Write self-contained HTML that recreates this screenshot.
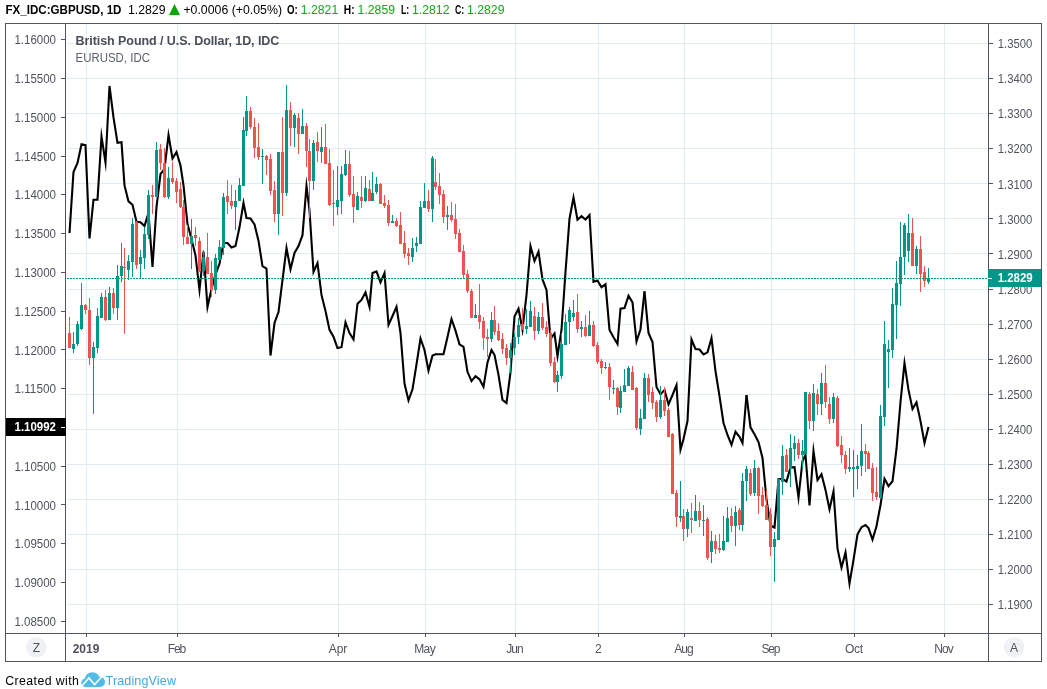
<!DOCTYPE html>
<html lang="en"><head><meta charset="utf-8"><title>FX_IDC:GBPUSD, 1D</title>
<style>
html,body{margin:0;padding:0;background:#fff;}
body{width:1047px;height:689px;overflow:hidden;}
svg{display:block;}
text{font-family:"Liberation Sans",sans-serif;}
.ce{shape-rendering:crispEdges;}
.al{font-size:12px;fill:#50535e;}
.hd{font-size:12.2px;fill:#000;}
.hg{font-size:12.2px;fill:#14a614;}
.b{font-weight:bold;}
</style></head><body>
<svg width="1047" height="689" viewBox="0 0 1047 689">
<rect x="0" y="0" width="1047" height="689" fill="#fff"/>
<g class="ce" fill="#e1ecf2">
<rect x="67" y="43" width="920" height="1"/>
<rect x="67" y="78" width="920" height="1"/>
<rect x="67" y="113" width="920" height="1"/>
<rect x="67" y="148" width="920" height="1"/>
<rect x="67" y="183" width="920" height="1"/>
<rect x="67" y="218" width="920" height="1"/>
<rect x="67" y="253" width="920" height="1"/>
<rect x="67" y="289" width="920" height="1"/>
<rect x="67" y="324" width="920" height="1"/>
<rect x="67" y="359" width="920" height="1"/>
<rect x="67" y="394" width="920" height="1"/>
<rect x="67" y="429" width="920" height="1"/>
<rect x="67" y="464" width="920" height="1"/>
<rect x="67" y="499" width="920" height="1"/>
<rect x="67" y="534" width="920" height="1"/>
<rect x="67" y="569" width="920" height="1"/>
<rect x="67" y="604" width="920" height="1"/>
<rect x="86" y="24" width="1" height="609"/>
<rect x="177" y="24" width="1" height="609"/>
<rect x="338" y="24" width="1" height="609"/>
<rect x="425" y="24" width="1" height="609"/>
<rect x="515" y="24" width="1" height="609"/>
<rect x="598" y="24" width="1" height="609"/>
<rect x="684" y="24" width="1" height="609"/>
<rect x="771" y="24" width="1" height="609"/>
<rect x="854" y="24" width="1" height="609"/>
<rect x="944" y="24" width="1" height="609"/>
</g>
<g fill="none" stroke="#000" stroke-width="2.1" stroke-linejoin="miter" stroke-miterlimit="10" stroke-linecap="butt">
<polyline points="69.5,233.0 73.5,172.0 77.5,163.0 81.5,144.2 85.5,145.2 89.5,238.5 93.5,199.8 97.5,199.8 101.5,136.5 105.5,162.5 109.5,86.0 113.5,117.4 117.5,142.8 121.5,142.2 124.5,185.4 128.5,201.4 132.5,204.8 136.5,221.8 140.5,222.2 144.5,226.0 148.5,213.0 152.5,267.0 156.5,207.0 160.5,174.0 164.5,169.0 168.5,135.0 172.5,158.5 176.5,152.0 180.5,165.5 183.5,185.4 187.5,224.0 191.5,239.0 195.5,255.5 199.5,290.0 203.5,251.5 207.5,307.0 211.5,289.0 215.5,274.3 219.5,263.7 223.5,243.0 227.5,243.0 231.5,247.5 235.5,246.0 239.5,227.3 243.5,202.8 246.5,218.0 250.5,218.4 254.5,224.5 258.5,240.7 262.5,266.2 266.5,268.5 270.5,355.5 274.5,323.0 278.5,312.0 282.5,280.0 286.5,248.0 290.5,269.3 294.5,253.0 298.5,246.0 302.5,235.2 306.5,186.0 309.5,210.5 313.5,272.0 317.5,263.0 321.5,294.9 325.5,311.0 329.5,329.8 333.5,336.8 337.5,348.0 341.5,347.2 345.5,322.4 349.5,333.0 353.5,339.3 357.5,303.7 361.5,299.9 365.5,292.4 369.5,306.8 372.5,273.1 376.5,271.5 380.5,282.4 384.5,273.1 388.5,324.9 392.5,316.0 396.5,306.8 400.5,333.0 404.5,383.6 408.5,400.4 412.5,389.3 416.5,364.3 420.5,338.5 424.5,350.0 428.5,370.5 432.5,355.6 435.5,354.3 439.5,354.3 443.5,354.3 447.5,336.9 451.5,319.0 455.5,330.6 459.5,344.3 463.5,346.8 467.5,371.8 471.5,381.1 475.5,376.2 479.5,379.3 483.5,386.8 487.5,362.4 491.5,350.0 494.5,354.9 498.5,374.9 502.5,399.9 506.5,403.0 510.5,372.4 514.5,316.5 518.5,308.7 522.5,329.8 526.5,295.0 530.5,246.1 534.5,261.1 538.5,251.7 542.5,279.4 546.5,290.0 550.5,339.0 554.5,333.5 557.5,356.0 561.5,330.0 565.5,272.0 569.5,218.7 573.5,197.5 577.5,219.8 581.5,216.2 585.5,219.5 589.5,215.0 593.5,281.8 597.5,280.6 601.5,287.2 605.5,284.3 609.5,329.9 613.5,337.3 617.5,344.0 620.5,308.6 624.5,308.0 628.5,295.8 632.5,302.4 636.5,341.5 640.5,329.2 644.5,291.3"/>
<polyline points="644.5,291.3 648.5,333.0 652.5,342.0 656.5,387.0 660.5,394.2 664.5,390.1 668.5,404.4 672.5,395.0 676.5,385.1 680.5,449.5 683.5,439.0 687.5,421.0 691.5,339.5 695.5,349.0 699.5,349.5 703.5,354.5 707.5,352.4 711.5,338.1 715.5,371.1 719.5,396.2 723.5,423.0 727.5,435.0 731.5,444.8 735.5,431.8 739.5,436.8 742.5,443.0 746.5,395.0"/>
<polyline points="746.5,395.0 750.5,427.4 754.5,434.3 758.5,442.0 762.5,458.0 766.5,499.5 770.5,525.5 774.5,527.5 778.5,479.3 782.5,478.8 786.5,481.5 790.5,467.4 794.5,467.2 798.5,497.5 802.5,461.0 805.5,455.0 809.5,505.4 813.5,451.0 817.5,479.9 821.5,474.3 825.5,489.9 829.5,509.3 833.5,491.5 837.5,548.7 841.5,567.4 845.5,552.4 849.5,583.6 853.5,559.9 857.5,534.3 861.5,527.2 865.5,525.0 868.5,528.1 872.5,539.5 876.5,526.2 880.5,505.0 884.5,478.7 888.5,486.1 892.5,481.2 896.5,449.0 900.5,402.0 904.5,363.1 908.5,389.9 912.5,409.0 916.5,402.4 920.5,421.1 924.5,443.0 928.5,427.0"/>
</g>
<g class="ce">
<rect fill="#ef5350" x="69" y="317" width="1" height="31"/><rect fill="#ef5350" x="68" y="333" width="3" height="15"/>
<rect fill="#009688" x="73" y="332" width="1" height="21"/><rect fill="#009688" x="72" y="344" width="3" height="5"/>
<rect fill="#009688" x="77" y="321" width="1" height="25"/><rect fill="#009688" x="76" y="324" width="3" height="20"/>
<rect fill="#009688" x="81" y="283" width="1" height="47"/><rect fill="#009688" x="80" y="305" width="3" height="24"/>
<rect fill="#ef5350" x="85" y="304" width="1" height="10"/><rect fill="#ef5350" x="84" y="305" width="3" height="5"/>
<rect fill="#ef5350" x="89" y="298" width="1" height="67"/><rect fill="#ef5350" x="88" y="310" width="3" height="48"/>
<rect fill="#009688" x="93" y="342" width="1" height="72"/><rect fill="#009688" x="92" y="347" width="3" height="11"/>
<rect fill="#009688" x="97" y="308" width="1" height="45"/><rect fill="#009688" x="96" y="316" width="3" height="32"/>
<rect fill="#009688" x="101" y="293" width="1" height="25"/><rect fill="#009688" x="100" y="297" width="3" height="21"/>
<rect fill="#ef5350" x="105" y="290" width="1" height="31"/><rect fill="#ef5350" x="104" y="297" width="3" height="23"/>
<rect fill="#009688" x="109" y="287" width="1" height="33"/><rect fill="#009688" x="108" y="293" width="3" height="27"/>
<rect fill="#ef5350" x="113" y="288" width="1" height="26"/><rect fill="#ef5350" x="112" y="293" width="3" height="15"/>
<rect fill="#009688" x="117" y="265" width="1" height="55"/><rect fill="#009688" x="116" y="276" width="3" height="32"/>
<rect fill="#009688" x="121" y="243" width="1" height="39"/><rect fill="#009688" x="120" y="266" width="3" height="10"/>
<rect fill="#ef5350" x="124" y="248" width="1" height="86"/><rect fill="#ef5350" x="123" y="267" width="3" height="1"/>
<rect fill="#009688" x="128" y="255" width="1" height="25"/><rect fill="#009688" x="127" y="261" width="3" height="9"/>
<rect fill="#009688" x="132" y="218" width="1" height="59"/><rect fill="#009688" x="131" y="224" width="3" height="38"/>
<rect fill="#ef5350" x="136" y="221" width="1" height="48"/><rect fill="#ef5350" x="135" y="222" width="3" height="43"/>
<rect fill="#009688" x="140" y="250" width="1" height="28"/><rect fill="#009688" x="139" y="257" width="3" height="7"/>
<rect fill="#009688" x="144" y="227" width="1" height="42"/><rect fill="#009688" x="143" y="234" width="3" height="24"/>
<rect fill="#009688" x="148" y="190" width="1" height="49"/><rect fill="#009688" x="147" y="195" width="3" height="40"/>
<rect fill="#ef5350" x="152" y="185" width="1" height="29"/><rect fill="#ef5350" x="151" y="195" width="3" height="2"/>
<rect fill="#009688" x="156" y="142" width="1" height="55"/><rect fill="#009688" x="155" y="150" width="3" height="47"/>
<rect fill="#ef5350" x="160" y="144" width="1" height="26"/><rect fill="#ef5350" x="159" y="149" width="3" height="14"/>
<rect fill="#ef5350" x="164" y="148" width="1" height="50"/><rect fill="#ef5350" x="163" y="163" width="3" height="34"/>
<rect fill="#009688" x="168" y="167" width="1" height="32"/><rect fill="#009688" x="167" y="178" width="3" height="19"/>
<rect fill="#ef5350" x="172" y="162" width="1" height="22"/><rect fill="#ef5350" x="171" y="178" width="3" height="4"/>
<rect fill="#ef5350" x="176" y="178" width="1" height="25"/><rect fill="#ef5350" x="175" y="181" width="3" height="11"/>
<rect fill="#ef5350" x="180" y="182" width="1" height="26"/><rect fill="#ef5350" x="179" y="189" width="3" height="18"/>
<rect fill="#ef5350" x="183" y="200" width="1" height="45"/><rect fill="#ef5350" x="182" y="207" width="3" height="30"/>
<rect fill="#ef5350" x="187" y="225" width="1" height="19"/><rect fill="#ef5350" x="186" y="237" width="3" height="7"/>
<rect fill="#009688" x="191" y="219" width="1" height="50"/><rect fill="#009688" x="190" y="236" width="3" height="8"/>
<rect fill="#ef5350" x="195" y="227" width="1" height="19"/><rect fill="#ef5350" x="194" y="235" width="3" height="3"/>
<rect fill="#ef5350" x="199" y="237" width="1" height="35"/><rect fill="#ef5350" x="198" y="241" width="3" height="30"/>
<rect fill="#009688" x="203" y="250" width="1" height="26"/><rect fill="#009688" x="202" y="257" width="3" height="14"/>
<rect fill="#ef5350" x="207" y="233" width="1" height="41"/><rect fill="#ef5350" x="206" y="257" width="3" height="17"/>
<rect fill="#ef5350" x="211" y="261" width="1" height="36"/><rect fill="#ef5350" x="210" y="273" width="3" height="17"/>
<rect fill="#009688" x="215" y="254" width="1" height="40"/><rect fill="#009688" x="214" y="258" width="3" height="32"/>
<rect fill="#009688" x="219" y="240" width="1" height="20"/><rect fill="#009688" x="218" y="247" width="3" height="13"/>
<rect fill="#009688" x="223" y="193" width="1" height="62"/><rect fill="#009688" x="222" y="197" width="3" height="51"/>
<rect fill="#ef5350" x="227" y="180" width="1" height="34"/><rect fill="#ef5350" x="226" y="196" width="3" height="6"/>
<rect fill="#ef5350" x="231" y="185" width="1" height="24"/><rect fill="#ef5350" x="230" y="201" width="3" height="5"/>
<rect fill="#009688" x="235" y="190" width="1" height="40"/><rect fill="#009688" x="234" y="201" width="3" height="6"/>
<rect fill="#009688" x="239" y="178" width="1" height="23"/><rect fill="#009688" x="238" y="185" width="3" height="16"/>
<rect fill="#009688" x="243" y="117" width="1" height="69"/><rect fill="#009688" x="242" y="130" width="3" height="56"/>
<rect fill="#009688" x="246" y="96" width="1" height="40"/><rect fill="#009688" x="245" y="111" width="3" height="20"/>
<rect fill="#ef5350" x="250" y="107" width="1" height="22"/><rect fill="#ef5350" x="249" y="111" width="3" height="16"/>
<rect fill="#ef5350" x="254" y="118" width="1" height="40"/><rect fill="#ef5350" x="253" y="127" width="3" height="21"/>
<rect fill="#ef5350" x="258" y="123" width="1" height="37"/><rect fill="#ef5350" x="257" y="147" width="3" height="10"/>
<rect fill="#009688" x="262" y="149" width="1" height="35"/><rect fill="#009688" x="261" y="156" width="3" height="1"/>
<rect fill="#ef5350" x="266" y="155" width="1" height="20"/><rect fill="#ef5350" x="265" y="156" width="3" height="4"/>
<rect fill="#ef5350" x="270" y="154" width="1" height="41"/><rect fill="#ef5350" x="269" y="159" width="3" height="32"/>
<rect fill="#ef5350" x="274" y="181" width="1" height="41"/><rect fill="#ef5350" x="273" y="190" width="3" height="24"/>
<rect fill="#009688" x="278" y="152" width="1" height="83"/><rect fill="#009688" x="277" y="152" width="3" height="62"/>
<rect fill="#ef5350" x="282" y="117" width="1" height="99"/><rect fill="#ef5350" x="281" y="152" width="3" height="41"/>
<rect fill="#009688" x="286" y="85" width="1" height="111"/><rect fill="#009688" x="285" y="110" width="3" height="83"/>
<rect fill="#ef5350" x="290" y="102" width="1" height="44"/><rect fill="#ef5350" x="289" y="110" width="3" height="18"/>
<rect fill="#009688" x="294" y="113" width="1" height="34"/><rect fill="#009688" x="293" y="115" width="3" height="13"/>
<rect fill="#ef5350" x="298" y="113" width="1" height="41"/><rect fill="#ef5350" x="297" y="118" width="3" height="16"/>
<rect fill="#009688" x="302" y="109" width="1" height="25"/><rect fill="#009688" x="301" y="126" width="3" height="8"/>
<rect fill="#ef5350" x="306" y="123" width="1" height="44"/><rect fill="#ef5350" x="305" y="126" width="3" height="25"/>
<rect fill="#ef5350" x="309" y="139" width="1" height="79"/><rect fill="#ef5350" x="308" y="151" width="3" height="30"/>
<rect fill="#009688" x="313" y="140" width="1" height="50"/><rect fill="#009688" x="312" y="143" width="3" height="38"/>
<rect fill="#ef5350" x="317" y="132" width="1" height="30"/><rect fill="#ef5350" x="316" y="142" width="3" height="9"/>
<rect fill="#009688" x="321" y="127" width="1" height="36"/><rect fill="#009688" x="320" y="147" width="3" height="5"/>
<rect fill="#ef5350" x="325" y="124" width="1" height="40"/><rect fill="#ef5350" x="324" y="147" width="3" height="17"/>
<rect fill="#ef5350" x="329" y="149" width="1" height="57"/><rect fill="#ef5350" x="328" y="163" width="3" height="42"/>
<rect fill="#ef5350" x="333" y="170" width="1" height="56"/><rect fill="#ef5350" x="332" y="203" width="3" height="1"/>
<rect fill="#009688" x="337" y="166" width="1" height="49"/><rect fill="#009688" x="336" y="200" width="3" height="7"/>
<rect fill="#009688" x="341" y="166" width="1" height="48"/><rect fill="#009688" x="340" y="174" width="3" height="27"/>
<rect fill="#009688" x="345" y="150" width="1" height="26"/><rect fill="#009688" x="344" y="164" width="3" height="11"/>
<rect fill="#ef5350" x="349" y="151" width="1" height="46"/><rect fill="#ef5350" x="348" y="164" width="3" height="31"/>
<rect fill="#ef5350" x="353" y="176" width="1" height="47"/><rect fill="#ef5350" x="352" y="194" width="3" height="13"/>
<rect fill="#009688" x="357" y="192" width="1" height="18"/><rect fill="#009688" x="356" y="196" width="3" height="14"/>
<rect fill="#ef5350" x="361" y="176" width="1" height="32"/><rect fill="#ef5350" x="360" y="197" width="3" height="4"/>
<rect fill="#009688" x="365" y="176" width="1" height="26"/><rect fill="#009688" x="364" y="188" width="3" height="13"/>
<rect fill="#ef5350" x="369" y="180" width="1" height="21"/><rect fill="#ef5350" x="368" y="189" width="3" height="12"/>
<rect fill="#009688" x="372" y="172" width="1" height="29"/><rect fill="#009688" x="371" y="193" width="3" height="8"/>
<rect fill="#009688" x="376" y="177" width="1" height="17"/><rect fill="#009688" x="375" y="184" width="3" height="8"/>
<rect fill="#ef5350" x="380" y="183" width="1" height="21"/><rect fill="#ef5350" x="379" y="184" width="3" height="20"/>
<rect fill="#ef5350" x="384" y="195" width="1" height="13"/><rect fill="#ef5350" x="383" y="203" width="3" height="3"/>
<rect fill="#ef5350" x="388" y="200" width="1" height="26"/><rect fill="#ef5350" x="387" y="205" width="3" height="18"/>
<rect fill="#009688" x="392" y="215" width="1" height="8"/><rect fill="#009688" x="391" y="221" width="3" height="2"/>
<rect fill="#ef5350" x="396" y="218" width="1" height="9"/><rect fill="#ef5350" x="395" y="221" width="3" height="5"/>
<rect fill="#ef5350" x="400" y="212" width="1" height="32"/><rect fill="#ef5350" x="399" y="225" width="3" height="19"/>
<rect fill="#ef5350" x="404" y="231" width="1" height="27"/><rect fill="#ef5350" x="403" y="243" width="3" height="11"/>
<rect fill="#ef5350" x="408" y="248" width="1" height="17"/><rect fill="#ef5350" x="407" y="253" width="3" height="3"/>
<rect fill="#009688" x="412" y="238" width="1" height="24"/><rect fill="#009688" x="411" y="248" width="3" height="9"/>
<rect fill="#009688" x="416" y="237" width="1" height="15"/><rect fill="#009688" x="415" y="243" width="3" height="3"/>
<rect fill="#009688" x="420" y="201" width="1" height="43"/><rect fill="#009688" x="419" y="207" width="3" height="37"/>
<rect fill="#009688" x="424" y="183" width="1" height="25"/><rect fill="#009688" x="423" y="201" width="3" height="7"/>
<rect fill="#ef5350" x="428" y="190" width="1" height="22"/><rect fill="#ef5350" x="427" y="201" width="3" height="8"/>
<rect fill="#009688" x="432" y="156" width="1" height="66"/><rect fill="#009688" x="431" y="158" width="3" height="51"/>
<rect fill="#ef5350" x="435" y="159" width="1" height="31"/><rect fill="#ef5350" x="434" y="182" width="3" height="5"/>
<rect fill="#ef5350" x="439" y="173" width="1" height="31"/><rect fill="#ef5350" x="438" y="186" width="3" height="9"/>
<rect fill="#ef5350" x="443" y="190" width="1" height="33"/><rect fill="#ef5350" x="442" y="194" width="3" height="23"/>
<rect fill="#009688" x="447" y="206" width="1" height="24"/><rect fill="#009688" x="446" y="215" width="3" height="2"/>
<rect fill="#ef5350" x="451" y="202" width="1" height="20"/><rect fill="#ef5350" x="450" y="215" width="3" height="5"/>
<rect fill="#ef5350" x="455" y="204" width="1" height="35"/><rect fill="#ef5350" x="454" y="219" width="3" height="15"/>
<rect fill="#ef5350" x="459" y="229" width="1" height="23"/><rect fill="#ef5350" x="458" y="233" width="3" height="19"/>
<rect fill="#ef5350" x="463" y="245" width="1" height="33"/><rect fill="#ef5350" x="462" y="251" width="3" height="24"/>
<rect fill="#ef5350" x="467" y="270" width="1" height="23"/><rect fill="#ef5350" x="466" y="274" width="3" height="17"/>
<rect fill="#ef5350" x="471" y="289" width="1" height="29"/><rect fill="#ef5350" x="470" y="291" width="3" height="27"/>
<rect fill="#009688" x="475" y="304" width="1" height="14"/><rect fill="#009688" x="474" y="315" width="3" height="3"/>
<rect fill="#ef5350" x="479" y="284" width="1" height="45"/><rect fill="#ef5350" x="478" y="315" width="3" height="7"/>
<rect fill="#ef5350" x="483" y="317" width="1" height="33"/><rect fill="#ef5350" x="482" y="321" width="3" height="17"/>
<rect fill="#ef5350" x="487" y="329" width="1" height="28"/><rect fill="#ef5350" x="486" y="337" width="3" height="2"/>
<rect fill="#009688" x="491" y="312" width="1" height="30"/><rect fill="#009688" x="490" y="320" width="3" height="19"/>
<rect fill="#ef5350" x="494" y="306" width="1" height="29"/><rect fill="#ef5350" x="493" y="320" width="3" height="12"/>
<rect fill="#ef5350" x="498" y="323" width="1" height="18"/><rect fill="#ef5350" x="497" y="331" width="3" height="9"/>
<rect fill="#ef5350" x="502" y="333" width="1" height="21"/><rect fill="#ef5350" x="501" y="339" width="3" height="10"/>
<rect fill="#ef5350" x="506" y="344" width="1" height="21"/><rect fill="#ef5350" x="505" y="348" width="3" height="10"/>
<rect fill="#009688" x="510" y="343" width="1" height="30"/><rect fill="#009688" x="509" y="350" width="3" height="8"/>
<rect fill="#009688" x="514" y="333" width="1" height="22"/><rect fill="#009688" x="513" y="337" width="3" height="11"/>
<rect fill="#009688" x="518" y="318" width="1" height="26"/><rect fill="#009688" x="517" y="325" width="3" height="12"/>
<rect fill="#ef5350" x="522" y="308" width="1" height="22"/><rect fill="#ef5350" x="521" y="324" width="3" height="6"/>
<rect fill="#009688" x="526" y="309" width="1" height="25"/><rect fill="#009688" x="525" y="326" width="3" height="3"/>
<rect fill="#009688" x="530" y="301" width="1" height="26"/><rect fill="#009688" x="529" y="311" width="3" height="16"/>
<rect fill="#ef5350" x="534" y="307" width="1" height="33"/><rect fill="#ef5350" x="533" y="316" width="3" height="15"/>
<rect fill="#009688" x="538" y="312" width="1" height="22"/><rect fill="#009688" x="537" y="317" width="3" height="14"/>
<rect fill="#ef5350" x="542" y="303" width="1" height="27"/><rect fill="#ef5350" x="541" y="317" width="3" height="11"/>
<rect fill="#ef5350" x="546" y="321" width="1" height="16"/><rect fill="#ef5350" x="545" y="327" width="3" height="7"/>
<rect fill="#ef5350" x="550" y="330" width="1" height="36"/><rect fill="#ef5350" x="549" y="333" width="3" height="30"/>
<rect fill="#ef5350" x="554" y="357" width="1" height="26"/><rect fill="#ef5350" x="553" y="362" width="3" height="20"/>
<rect fill="#009688" x="557" y="371" width="1" height="21"/><rect fill="#009688" x="556" y="375" width="3" height="7"/>
<rect fill="#009688" x="561" y="333" width="1" height="46"/><rect fill="#009688" x="560" y="344" width="3" height="32"/>
<rect fill="#009688" x="565" y="314" width="1" height="31"/><rect fill="#009688" x="564" y="322" width="3" height="23"/>
<rect fill="#009688" x="569" y="307" width="1" height="37"/><rect fill="#009688" x="568" y="310" width="3" height="12"/>
<rect fill="#009688" x="573" y="300" width="1" height="21"/><rect fill="#009688" x="572" y="313" width="3" height="4"/>
<rect fill="#ef5350" x="577" y="294" width="1" height="39"/><rect fill="#ef5350" x="576" y="312" width="3" height="17"/>
<rect fill="#009688" x="581" y="321" width="1" height="16"/><rect fill="#009688" x="580" y="327" width="3" height="2"/>
<rect fill="#ef5350" x="585" y="315" width="1" height="22"/><rect fill="#ef5350" x="584" y="327" width="3" height="9"/>
<rect fill="#009688" x="589" y="311" width="1" height="25"/><rect fill="#009688" x="588" y="325" width="3" height="11"/>
<rect fill="#ef5350" x="593" y="321" width="1" height="26"/><rect fill="#ef5350" x="592" y="325" width="3" height="21"/>
<rect fill="#ef5350" x="597" y="342" width="1" height="22"/><rect fill="#ef5350" x="596" y="345" width="3" height="17"/>
<rect fill="#ef5350" x="601" y="359" width="1" height="15"/><rect fill="#ef5350" x="600" y="361" width="3" height="7"/>
<rect fill="#009688" x="605" y="362" width="1" height="7"/><rect fill="#009688" x="604" y="367" width="3" height="1"/>
<rect fill="#ef5350" x="609" y="363" width="1" height="37"/><rect fill="#ef5350" x="608" y="367" width="3" height="20"/>
<rect fill="#009688" x="613" y="380" width="1" height="14"/><rect fill="#009688" x="612" y="388" width="3" height="1"/>
<rect fill="#ef5350" x="617" y="387" width="1" height="28"/><rect fill="#ef5350" x="616" y="388" width="3" height="19"/>
<rect fill="#009688" x="620" y="386" width="1" height="27"/><rect fill="#009688" x="619" y="391" width="3" height="17"/>
<rect fill="#009688" x="624" y="369" width="1" height="23"/><rect fill="#009688" x="623" y="385" width="3" height="7"/>
<rect fill="#009688" x="628" y="366" width="1" height="20"/><rect fill="#009688" x="627" y="368" width="3" height="18"/>
<rect fill="#ef5350" x="632" y="366" width="1" height="24"/><rect fill="#ef5350" x="631" y="372" width="3" height="18"/>
<rect fill="#ef5350" x="636" y="387" width="1" height="43"/><rect fill="#ef5350" x="635" y="388" width="3" height="40"/>
<rect fill="#009688" x="640" y="409" width="1" height="26"/><rect fill="#009688" x="639" y="418" width="3" height="11"/>
<rect fill="#009688" x="644" y="373" width="1" height="46"/><rect fill="#009688" x="643" y="378" width="3" height="41"/>
<rect fill="#ef5350" x="648" y="374" width="1" height="28"/><rect fill="#ef5350" x="647" y="378" width="3" height="17"/>
<rect fill="#ef5350" x="652" y="387" width="1" height="22"/><rect fill="#ef5350" x="651" y="392" width="3" height="11"/>
<rect fill="#ef5350" x="656" y="400" width="1" height="22"/><rect fill="#ef5350" x="655" y="402" width="3" height="15"/>
<rect fill="#009688" x="660" y="386" width="1" height="33"/><rect fill="#009688" x="659" y="400" width="3" height="17"/>
<rect fill="#ef5350" x="664" y="387" width="1" height="29"/><rect fill="#ef5350" x="663" y="400" width="3" height="11"/>
<rect fill="#ef5350" x="668" y="408" width="1" height="29"/><rect fill="#ef5350" x="667" y="410" width="3" height="27"/>
<rect fill="#ef5350" x="672" y="433" width="1" height="61"/><rect fill="#ef5350" x="671" y="434" width="3" height="60"/>
<rect fill="#ef5350" x="676" y="490" width="1" height="37"/><rect fill="#ef5350" x="675" y="493" width="3" height="24"/>
<rect fill="#009688" x="680" y="481" width="1" height="41"/><rect fill="#009688" x="679" y="516" width="3" height="2"/>
<rect fill="#ef5350" x="683" y="509" width="1" height="32"/><rect fill="#ef5350" x="682" y="516" width="3" height="13"/>
<rect fill="#009688" x="687" y="509" width="1" height="28"/><rect fill="#009688" x="686" y="512" width="3" height="17"/>
<rect fill="#ef5350" x="691" y="503" width="1" height="30"/><rect fill="#ef5350" x="690" y="518" width="3" height="2"/>
<rect fill="#009688" x="695" y="495" width="1" height="26"/><rect fill="#009688" x="694" y="511" width="3" height="10"/>
<rect fill="#ef5350" x="699" y="502" width="1" height="25"/><rect fill="#ef5350" x="698" y="511" width="3" height="9"/>
<rect fill="#009688" x="703" y="505" width="1" height="31"/><rect fill="#009688" x="702" y="520" width="3" height="1"/>
<rect fill="#ef5350" x="707" y="517" width="1" height="43"/><rect fill="#ef5350" x="706" y="519" width="3" height="39"/>
<rect fill="#009688" x="711" y="531" width="1" height="32"/><rect fill="#009688" x="710" y="541" width="3" height="11"/>
<rect fill="#ef5350" x="715" y="535" width="1" height="19"/><rect fill="#ef5350" x="714" y="541" width="3" height="8"/>
<rect fill="#ef5350" x="719" y="534" width="1" height="19"/><rect fill="#ef5350" x="718" y="548" width="3" height="2"/>
<rect fill="#009688" x="723" y="516" width="1" height="35"/><rect fill="#009688" x="722" y="541" width="3" height="9"/>
<rect fill="#009688" x="727" y="507" width="1" height="35"/><rect fill="#009688" x="726" y="518" width="3" height="24"/>
<rect fill="#ef5350" x="731" y="508" width="1" height="24"/><rect fill="#ef5350" x="730" y="516" width="3" height="10"/>
<rect fill="#009688" x="735" y="506" width="1" height="40"/><rect fill="#009688" x="734" y="512" width="3" height="14"/>
<rect fill="#ef5350" x="739" y="508" width="1" height="22"/><rect fill="#ef5350" x="738" y="510" width="3" height="15"/>
<rect fill="#009688" x="742" y="473" width="1" height="58"/><rect fill="#009688" x="741" y="481" width="3" height="44"/>
<rect fill="#009688" x="746" y="466" width="1" height="35"/><rect fill="#009688" x="745" y="469" width="3" height="12"/>
<rect fill="#ef5350" x="750" y="469" width="1" height="27"/><rect fill="#ef5350" x="749" y="473" width="3" height="21"/>
<rect fill="#009688" x="754" y="460" width="1" height="36"/><rect fill="#009688" x="753" y="468" width="3" height="25"/>
<rect fill="#ef5350" x="758" y="467" width="1" height="47"/><rect fill="#ef5350" x="757" y="468" width="3" height="28"/>
<rect fill="#ef5350" x="762" y="487" width="1" height="20"/><rect fill="#ef5350" x="761" y="495" width="3" height="11"/>
<rect fill="#ef5350" x="766" y="490" width="1" height="30"/><rect fill="#ef5350" x="765" y="505" width="3" height="15"/>
<rect fill="#ef5350" x="770" y="508" width="1" height="48"/><rect fill="#ef5350" x="769" y="514" width="3" height="33"/>
<rect fill="#009688" x="774" y="532" width="1" height="50"/><rect fill="#009688" x="773" y="539" width="3" height="8"/>
<rect fill="#009688" x="778" y="479" width="1" height="61"/><rect fill="#009688" x="777" y="479" width="3" height="61"/>
<rect fill="#009688" x="782" y="445" width="1" height="50"/><rect fill="#009688" x="781" y="456" width="3" height="26"/>
<rect fill="#ef5350" x="786" y="449" width="1" height="23"/><rect fill="#ef5350" x="785" y="455" width="3" height="17"/>
<rect fill="#009688" x="790" y="434" width="1" height="53"/><rect fill="#009688" x="789" y="448" width="3" height="21"/>
<rect fill="#009688" x="794" y="436" width="1" height="25"/><rect fill="#009688" x="793" y="443" width="3" height="6"/>
<rect fill="#ef5350" x="798" y="439" width="1" height="20"/><rect fill="#ef5350" x="797" y="443" width="3" height="12"/>
<rect fill="#009688" x="802" y="440" width="1" height="29"/><rect fill="#009688" x="801" y="451" width="3" height="4"/>
<rect fill="#009688" x="805" y="392" width="1" height="62"/><rect fill="#009688" x="804" y="392" width="3" height="62"/>
<rect fill="#ef5350" x="809" y="392" width="1" height="37"/><rect fill="#ef5350" x="808" y="394" width="3" height="27"/>
<rect fill="#009688" x="813" y="384" width="1" height="47"/><rect fill="#009688" x="812" y="393" width="3" height="28"/>
<rect fill="#ef5350" x="817" y="389" width="1" height="26"/><rect fill="#ef5350" x="816" y="394" width="3" height="10"/>
<rect fill="#009688" x="821" y="373" width="1" height="42"/><rect fill="#009688" x="820" y="383" width="3" height="21"/>
<rect fill="#ef5350" x="825" y="365" width="1" height="43"/><rect fill="#ef5350" x="824" y="383" width="3" height="19"/>
<rect fill="#ef5350" x="829" y="397" width="1" height="27"/><rect fill="#ef5350" x="828" y="404" width="3" height="15"/>
<rect fill="#009688" x="833" y="393" width="1" height="30"/><rect fill="#009688" x="832" y="397" width="3" height="22"/>
<rect fill="#ef5350" x="837" y="396" width="1" height="51"/><rect fill="#ef5350" x="836" y="398" width="3" height="48"/>
<rect fill="#ef5350" x="841" y="436" width="1" height="27"/><rect fill="#ef5350" x="840" y="445" width="3" height="10"/>
<rect fill="#ef5350" x="845" y="451" width="1" height="23"/><rect fill="#ef5350" x="844" y="455" width="3" height="14"/>
<rect fill="#009688" x="849" y="448" width="1" height="24"/><rect fill="#009688" x="848" y="467" width="3" height="2"/>
<rect fill="#009688" x="853" y="450" width="1" height="47"/><rect fill="#009688" x="852" y="467" width="3" height="2"/>
<rect fill="#009688" x="857" y="455" width="1" height="34"/><rect fill="#009688" x="856" y="466" width="3" height="3"/>
<rect fill="#009688" x="861" y="424" width="1" height="52"/><rect fill="#009688" x="860" y="451" width="3" height="15"/>
<rect fill="#ef5350" x="865" y="444" width="1" height="28"/><rect fill="#ef5350" x="864" y="451" width="3" height="3"/>
<rect fill="#ef5350" x="868" y="451" width="1" height="18"/><rect fill="#ef5350" x="867" y="453" width="3" height="16"/>
<rect fill="#ef5350" x="872" y="463" width="1" height="38"/><rect fill="#ef5350" x="871" y="468" width="3" height="25"/>
<rect fill="#ef5350" x="876" y="467" width="1" height="33"/><rect fill="#ef5350" x="875" y="492" width="3" height="5"/>
<rect fill="#009688" x="880" y="405" width="1" height="93"/><rect fill="#009688" x="879" y="416" width="3" height="82"/>
<rect fill="#009688" x="884" y="321" width="1" height="105"/><rect fill="#009688" x="883" y="344" width="3" height="73"/>
<rect fill="#009688" x="888" y="340" width="1" height="48"/><rect fill="#009688" x="887" y="349" width="3" height="3"/>
<rect fill="#009688" x="892" y="288" width="1" height="70"/><rect fill="#009688" x="891" y="304" width="3" height="46"/>
<rect fill="#009688" x="896" y="261" width="1" height="78"/><rect fill="#009688" x="895" y="283" width="3" height="22"/>
<rect fill="#009688" x="900" y="222" width="1" height="84"/><rect fill="#009688" x="899" y="257" width="3" height="27"/>
<rect fill="#009688" x="904" y="223" width="1" height="52"/><rect fill="#009688" x="903" y="225" width="3" height="32"/>
<rect fill="#009688" x="908" y="214" width="1" height="48"/><rect fill="#009688" x="907" y="233" width="3" height="18"/>
<rect fill="#ef5350" x="912" y="218" width="1" height="48"/><rect fill="#ef5350" x="911" y="233" width="3" height="33"/>
<rect fill="#009688" x="916" y="246" width="1" height="28"/><rect fill="#009688" x="915" y="249" width="3" height="17"/>
<rect fill="#ef5350" x="920" y="236" width="1" height="56"/><rect fill="#ef5350" x="919" y="249" width="3" height="25"/>
<rect fill="#ef5350" x="924" y="266" width="1" height="21"/><rect fill="#ef5350" x="923" y="272" width="3" height="9"/>
<rect fill="#009688" x="928" y="268" width="1" height="16"/><rect fill="#009688" x="927" y="278" width="3" height="4"/>
</g>
<line class="ce" x1="67" y1="278.5" x2="988" y2="278.5" stroke="#009688" stroke-width="1" stroke-dasharray="2 1"/>
<g class="ce" fill="#4f5260">
<rect x="5" y="23" width="1037" height="1"/>
<rect x="5" y="661" width="1037" height="1"/>
<rect x="5" y="23" width="1" height="639"/>
<rect x="1041" y="23" width="1" height="639"/>
<rect x="65" y="23" width="1" height="639"/>
<rect x="988" y="23" width="1" height="639"/>
<rect x="5" y="633" width="1037" height="1"/>
<rect x="61" y="39" width="4" height="1"/>
<rect x="61" y="78" width="4" height="1"/>
<rect x="61" y="117" width="4" height="1"/>
<rect x="61" y="156" width="4" height="1"/>
<rect x="61" y="194" width="4" height="1"/>
<rect x="61" y="233" width="4" height="1"/>
<rect x="61" y="272" width="4" height="1"/>
<rect x="61" y="311" width="4" height="1"/>
<rect x="61" y="349" width="4" height="1"/>
<rect x="61" y="388" width="4" height="1"/>
<rect x="61" y="427" width="4" height="1"/>
<rect x="61" y="466" width="4" height="1"/>
<rect x="61" y="504" width="4" height="1"/>
<rect x="61" y="543" width="4" height="1"/>
<rect x="61" y="582" width="4" height="1"/>
<rect x="61" y="621" width="4" height="1"/>
<rect x="989" y="43" width="4" height="1"/>
<rect x="989" y="78" width="4" height="1"/>
<rect x="989" y="113" width="4" height="1"/>
<rect x="989" y="148" width="4" height="1"/>
<rect x="989" y="183" width="4" height="1"/>
<rect x="989" y="218" width="4" height="1"/>
<rect x="989" y="253" width="4" height="1"/>
<rect x="989" y="289" width="4" height="1"/>
<rect x="989" y="324" width="4" height="1"/>
<rect x="989" y="359" width="4" height="1"/>
<rect x="989" y="394" width="4" height="1"/>
<rect x="989" y="429" width="4" height="1"/>
<rect x="989" y="464" width="4" height="1"/>
<rect x="989" y="499" width="4" height="1"/>
<rect x="989" y="534" width="4" height="1"/>
<rect x="989" y="569" width="4" height="1"/>
<rect x="989" y="604" width="4" height="1"/>
<rect x="86" y="634" width="1" height="3"/>
<rect x="177" y="634" width="1" height="3"/>
<rect x="338" y="634" width="1" height="3"/>
<rect x="425" y="634" width="1" height="3"/>
<rect x="515" y="634" width="1" height="3"/>
<rect x="598" y="634" width="1" height="3"/>
<rect x="684" y="634" width="1" height="3"/>
<rect x="771" y="634" width="1" height="3"/>
<rect x="854" y="634" width="1" height="3"/>
<rect x="944" y="634" width="1" height="3"/>
</g>
<text class="al" x="14.4" y="44.3" textLength="41.6" lengthAdjust="spacingAndGlyphs">1.16000</text>
<text class="al" x="14.4" y="83.1" textLength="41.6" lengthAdjust="spacingAndGlyphs">1.15500</text>
<text class="al" x="14.4" y="121.8" textLength="41.6" lengthAdjust="spacingAndGlyphs">1.15000</text>
<text class="al" x="14.4" y="160.6" textLength="41.6" lengthAdjust="spacingAndGlyphs">1.14500</text>
<text class="al" x="14.4" y="199.4" textLength="41.6" lengthAdjust="spacingAndGlyphs">1.14000</text>
<text class="al" x="14.4" y="238.2" textLength="41.6" lengthAdjust="spacingAndGlyphs">1.13500</text>
<text class="al" x="14.4" y="276.9" textLength="41.6" lengthAdjust="spacingAndGlyphs">1.13000</text>
<text class="al" x="14.4" y="315.7" textLength="41.6" lengthAdjust="spacingAndGlyphs">1.12500</text>
<text class="al" x="14.4" y="354.5" textLength="41.6" lengthAdjust="spacingAndGlyphs">1.12000</text>
<text class="al" x="14.4" y="393.2" textLength="41.6" lengthAdjust="spacingAndGlyphs">1.11500</text>
<text class="al" x="14.4" y="432.0" textLength="41.6" lengthAdjust="spacingAndGlyphs">1.11000</text>
<text class="al" x="14.4" y="470.8" textLength="41.6" lengthAdjust="spacingAndGlyphs">1.10500</text>
<text class="al" x="14.4" y="509.5" textLength="41.6" lengthAdjust="spacingAndGlyphs">1.10000</text>
<text class="al" x="14.4" y="548.3" textLength="41.6" lengthAdjust="spacingAndGlyphs">1.09500</text>
<text class="al" x="14.4" y="587.1" textLength="41.6" lengthAdjust="spacingAndGlyphs">1.09000</text>
<text class="al" x="14.4" y="625.9" textLength="41.6" lengthAdjust="spacingAndGlyphs">1.08500</text>
<text class="al" x="997.8" y="48.2" textLength="34.6" lengthAdjust="spacingAndGlyphs">1.3500</text>
<text class="al" x="997.8" y="83.3" textLength="34.6" lengthAdjust="spacingAndGlyphs">1.3400</text>
<text class="al" x="997.8" y="118.3" textLength="34.6" lengthAdjust="spacingAndGlyphs">1.3300</text>
<text class="al" x="997.8" y="153.4" textLength="34.6" lengthAdjust="spacingAndGlyphs">1.3200</text>
<text class="al" x="997.8" y="188.5" textLength="34.6" lengthAdjust="spacingAndGlyphs">1.3100</text>
<text class="al" x="997.8" y="223.5" textLength="34.6" lengthAdjust="spacingAndGlyphs">1.3000</text>
<text class="al" x="997.8" y="258.6" textLength="34.6" lengthAdjust="spacingAndGlyphs">1.2900</text>
<text class="al" x="997.8" y="293.7" textLength="34.6" lengthAdjust="spacingAndGlyphs">1.2800</text>
<text class="al" x="997.8" y="328.8" textLength="34.6" lengthAdjust="spacingAndGlyphs">1.2700</text>
<text class="al" x="997.8" y="363.8" textLength="34.6" lengthAdjust="spacingAndGlyphs">1.2600</text>
<text class="al" x="997.8" y="398.9" textLength="34.6" lengthAdjust="spacingAndGlyphs">1.2500</text>
<text class="al" x="997.8" y="434.0" textLength="34.6" lengthAdjust="spacingAndGlyphs">1.2400</text>
<text class="al" x="997.8" y="469.0" textLength="34.6" lengthAdjust="spacingAndGlyphs">1.2300</text>
<text class="al" x="997.8" y="504.1" textLength="34.6" lengthAdjust="spacingAndGlyphs">1.2200</text>
<text class="al" x="997.8" y="539.2" textLength="34.6" lengthAdjust="spacingAndGlyphs">1.2100</text>
<text class="al" x="997.8" y="574.2" textLength="34.6" lengthAdjust="spacingAndGlyphs">1.2000</text>
<text class="al" x="997.8" y="609.3" textLength="34.6" lengthAdjust="spacingAndGlyphs">1.1900</text>
<rect class="ce" x="6" y="418" width="60" height="18" fill="#000"/>
<rect class="ce" x="61" y="427" width="4" height="1" fill="#fff"/>
<text x="14.5" y="431.2" font-size="12" font-weight="bold" fill="#fff" textLength="41.5" lengthAdjust="spacingAndGlyphs">1.10992</text>
<rect class="ce" x="988" y="269" width="53" height="18" fill="#009688"/>
<rect class="ce" x="988" y="278" width="4" height="1" fill="#fff"/>
<text x="997.7" y="281.9" font-size="12" font-weight="bold" fill="#fff" textLength="35" lengthAdjust="spacingAndGlyphs">1.2829</text>
<text x="75.6" y="45.1" font-size="12.5" font-weight="bold" fill="#4a4e5a" textLength="203.7" lengthAdjust="spacing">British Pound / U.S. Dollar, 1D, IDC</text>
<text x="75.6" y="62.2" font-size="12" fill="#5d616c" textLength="74.3" lengthAdjust="spacingAndGlyphs">EURUSD, IDC</text>
<text class="al b" x="72.7" y="652.9" textLength="26.7" lengthAdjust="spacing">2019</text>
<text class="al" x="167.8" y="652.9" textLength="18.5" lengthAdjust="spacing">Feb</text>
<text class="al" x="328.8" y="652.9" textLength="18.5" lengthAdjust="spacing">Apr</text>
<text class="al" x="414.2" y="652.9" textLength="21.5" lengthAdjust="spacing">May</text>
<text class="al" x="506.2" y="652.9" textLength="17.5" lengthAdjust="spacing">Jun</text>
<text class="al" x="595.0" y="652.9" textLength="6.0" lengthAdjust="spacing">2</text>
<text class="al" x="674.2" y="652.9" textLength="19.5" lengthAdjust="spacing">Aug</text>
<text class="al" x="761.5" y="652.9" textLength="19.0" lengthAdjust="spacing">Sep</text>
<text class="al" x="845.0" y="652.9" textLength="18.0" lengthAdjust="spacing">Oct</text>
<text class="al" x="934.2" y="652.9" textLength="19.5" lengthAdjust="spacing">Nov</text>
<circle cx="36.3" cy="647.5" r="10.3" fill="#f0f1f5"/>
<text class="al" x="36.3" y="651.8" text-anchor="middle">Z</text>
<circle cx="1014.1" cy="647.4" r="10.2" fill="#f0f1f5"/>
<text class="al" x="1014.1" y="651.8" text-anchor="middle">A</text>
<text class="hd b" x="5.5" y="14" textLength="116.0" lengthAdjust="spacingAndGlyphs">FX_IDC:GBPUSD, 1D</text>
<text class="hd" x="128.0" y="14" textLength="37.5" lengthAdjust="spacingAndGlyphs">1.2829</text>
<polygon points="169,15 174.5,4 180,15" fill="#08a408"/>
<text class="hd" x="183.4" y="14" textLength="98.6" lengthAdjust="spacingAndGlyphs">+0.0006 (+0.05%)</text>
<text class="hd b" x="287.0" y="14" textLength="10.8" lengthAdjust="spacingAndGlyphs">O:</text>
<text class="hg" x="300.8" y="14" textLength="37.4" lengthAdjust="spacingAndGlyphs">1.2821</text>
<text class="hd b" x="343.8" y="14" textLength="10.8" lengthAdjust="spacingAndGlyphs">H:</text>
<text class="hg" x="357.6" y="14" textLength="37.4" lengthAdjust="spacingAndGlyphs">1.2859</text>
<text class="hd b" x="400.9" y="14" textLength="8.2" lengthAdjust="spacingAndGlyphs">L:</text>
<text class="hg" x="412.0" y="14" textLength="37.5" lengthAdjust="spacingAndGlyphs">1.2812</text>
<text class="hd b" x="455.0" y="14" textLength="9.2" lengthAdjust="spacingAndGlyphs">C:</text>
<text class="hg" x="467.0" y="14" textLength="37.5" lengthAdjust="spacingAndGlyphs">1.2829</text>
<text x="5.3" y="685" font-size="12.3" fill="#000" textLength="73.5" lengthAdjust="spacing">Created with</text>
<g fill="#52bbe7">
<circle cx="92.3" cy="679.6" r="7.4"/>
<circle cx="99.8" cy="681.9" r="5.2"/>
<circle cx="85.6" cy="682.8" r="4.3"/>
<rect x="85.6" y="680" width="14.2" height="7.1"/>
</g>
<polyline points="82.3,685.6 88.9,677.9 94.6,684.6 102.2,676.3" fill="none" stroke="#fff" stroke-width="1.5" stroke-linejoin="miter"/>
<text x="105.6" y="684.7" font-size="12.6" fill="#3fa9e0" textLength="70.4" lengthAdjust="spacing">TradingView</text>
</svg>
</body></html>
